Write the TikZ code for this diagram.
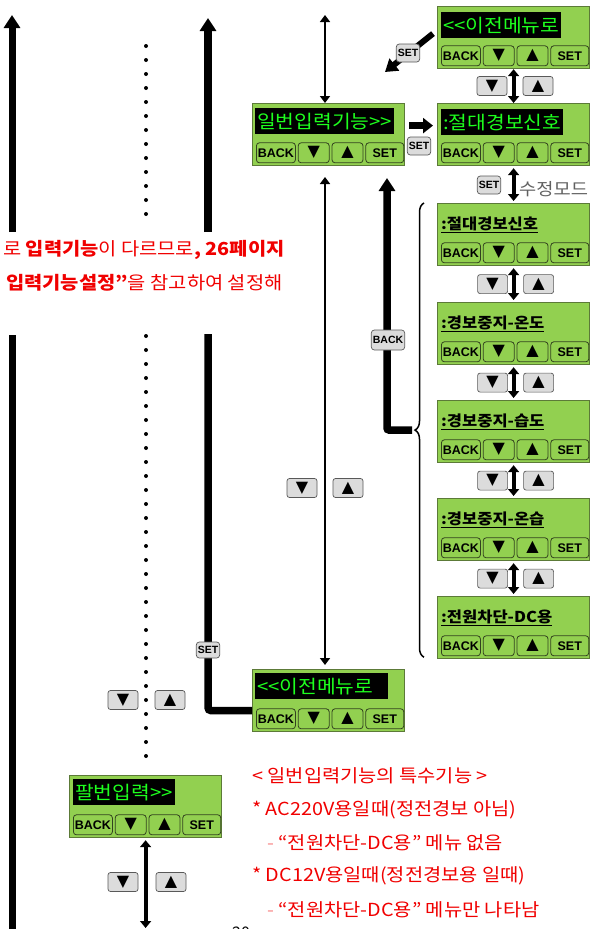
\documentclass[tikz,border=0pt]{standalone}
\usepackage{fontspec}
\setmainfont{Noto Sans CJK KR}[Ligatures=TeXOff]
\newfontfamily\krfont{Noto Sans CJK KR}[Ligatures=TeXOff, FakeStretch=1.1]
\newfontfamily\keyfont{Liberation Sans}
\newfontfamily\symfont{DejaVu Sans}
\usetikzlibrary{arrows.meta, calc, positioning, decorations.pathreplacing}

\definecolor{lcdgreen}{HTML}{92D050}
\definecolor{lcdedge}{HTML}{5C7A38}
\definecolor{lcdtext}{HTML}{1EFF1E}
\definecolor{keygray}{HTML}{DCDCDC}
\definecolor{notered}{HTML}{F00000}

\newcommand{\tri}[1]{{\symfont\fontsize{16}{16}\selectfont #1}}
\newcommand{\keyrow}[1]{%
  \node[panelkey, minimum width=39pt, anchor=south west] (#1back) at ($(#1.south west)+(4,-3)$) {BACK};
  \node[panelkey, minimum width=31pt, right=2pt of #1back] (#1down) {\tri{▼}};
  \node[panelkey, minimum width=31pt, right=2pt of #1down] (#1up) {\tri{▲}};
  \node[panelkey, minimum width=38pt, right=2pt of #1up] (#1set) {SET};}

\begin{document}
\begin{tikzpicture}[x=1pt, y=-1pt,
    panel/.style={draw=lcdedge, line width=1.2pt, fill=lcdgreen, minimum width=152pt, minimum height=62pt, inner sep=0pt, anchor=north west},
    panelkey/.style={draw=lcdedge!55!black, line width=0.8pt, fill=lcdgreen, rounded corners=3pt, minimum height=20pt, inner sep=0pt, font=\keyfont\bfseries\fontsize{12.5}{12.5}\selectfont},
    lcdtitle/.style={fill=black, text=lcdtext, inner xsep=2pt, inner ysep=0pt, minimum height=26pt, anchor=north west, font=\krfont\fontsize{18.5}{18.5}\selectfont},
    listtitle/.style={anchor=west, inner sep=0pt, font=\krfont\bfseries\fontsize{15}{15}\selectfont},
    graykey/.style={draw=gray!70!black, fill=keygray, rounded corners=2.5pt, minimum width=30pt, minimum height=19pt, inner sep=0pt, line width=0.7pt},
    icon/.style={draw=gray!70!black, fill=keygray, rounded corners=3pt, inner xsep=1.5pt, inner ysep=0pt, minimum height=18pt, line width=0.7pt, font=\keyfont\bfseries\fontsize{10.5}{10.5}\selectfont},
    bigarrow/.style={line width=7.5pt, -{Triangle[width=16pt,length=13pt]}},
    thinarrow/.style={line width=2.5pt, {Triangle[width=10pt,length=7pt]}-{Triangle[width=10pt,length=7pt]}},
    midarrow/.style={line width=4pt, {Triangle[width=11pt,length=7pt]}-{Triangle[width=11pt,length=7pt]}},
    note/.style={text=notered, anchor=west, inner sep=0pt, font=\krfont\fontsize{18}{18}\selectfont}]
    \useasboundingbox (0,0) rectangle (592,929);

    % left columns
    \coordinate (lt) at (12,15);
    \coordinate (lb) at (12,232);
    \draw[bigarrow, line width=7pt] (lb) -- (lt);
    \coordinate (lt2) at (12,335);
    \coordinate (lb2) at (12,935);
    \draw[line width=7pt] (lt2) -- (lb2);
    \foreach \y in {46,60,...,226} \fill (146,\y) circle[radius=2pt];
    \foreach \y in {336,350,...,766} \fill (146,\y) circle[radius=2pt];
    \coordinate (mt) at (208,18);
    \coordinate (mb) at (208,232);
    \draw[bigarrow] (mb) -- (mt);
    \coordinate (mt2) at (208,334);

    % red note
    \node[note] (nt1) at (3,250) {로 {\bfseries 입력기능}이 다르므로{\bfseries , 26페이지}};
    \node[note] (nt2) at (6,283) {{\bfseries 입력기능설정”}을 참고하여 설정해};

    % top panels
    \node[panel] (pa) at (437,6) {};
    \node[lcdtitle] (pat) at ($(pa.north west)+(4,6)$) {<<이전메뉴로};
    \keyrow{pa}
    \node[panel] (pb) at (252,103) {};
    \node[lcdtitle] (pbt) at ($(pb.north west)+(3,5)$) {일번입력기능>>};
    \keyrow{pb}
    \node[panel] (pc) at (437,103) {};
    \node[lcdtitle] (pct) at ($(pc.north west)+(4,6)$) {:절대경보신호};
    \keyrow{pc}

    \coordinate (dg) at (385,72);
    \draw[bigarrow, line width=6pt, -{Triangle[width=15pt,length=12pt]}] ($(pa.west)+(-4,-4)$) -- (dg);
    \node[icon] (set1) at (408,53) {SET};
    \draw[midarrow] (pa.south) -- (pc.north);
    \node[graykey] (pakd) at (492,86) {\tri{▼}};
    \node[graykey] (paku) at (538,86) {\tri{▲}};
    \draw[bigarrow, -{Triangle[width=15pt,length=10pt]}] ($(pb.east)+(4,-9)$) -- ($(pc.west)+(-4,-9)$);
    \node[icon] (set2) at (419,146) {SET};

    \coordinate (tpa) at (325,15);
    \draw[thinarrow] (tpa) -- (tpa |- pb.north);

    % edit mode list
    \foreach \n/\y/\t in {l1/203/:절대경보신호, l2/302/:경보중지-온도, l3/400/:경보중지-습도, l4/498/:경보중지-온습, l5/596/:전원차단-DC용} {
        \node[panel] (\n) at (437,\y) {};
        \node[listtitle] (\n t) at ($(\n.north west)+(4,22)$) {\underline{\t}};
        \keyrow{\n}
    }
    \draw[midarrow, shorten <=2pt, shorten >=2pt] (pc.south) -- (l1.north);
    \node[icon] (set3) at (489,185) {SET};
    \node[anchor=west, inner sep=0pt, text=gray!75!black, font=\krfont\fontsize{17}{17}\selectfont] (mode) at (519,189) {수정모드};
    \foreach \a/\b in {l1/l2, l2/l3, l3/l4, l4/l5} {
        \draw[midarrow, shorten <=2pt, shorten >=2pt] (\a.south) -- (\b.north);
        \node[graykey] (\a kd) at ($(\a.south)!0.5!(\b.north)+(-21,0)$) {\tri{▼}};
        \node[graykey] (\a ku) at ($(\a.south)!0.5!(\b.north)+(25,0)$) {\tri{▲}};
    }
    \draw[line width=1.5pt, decorate, decoration={brace, amplitude=9pt}] ($(l5.south west)+(-13,-2)$) -- ($(l1.north west)+(-13,0)$);
    \coordinate (brtip) at (412,430);
    \coordinate (bk) at (387,178);
    \draw[bigarrow, rounded corners=2pt] (brtip) -| (bk);
    \node[icon, minimum height=20pt] (back1) at (388,340) {BACK};

    % lower panels
    \node[panel] (pd) at (252,669) {};
    \node[lcdtitle, text width=129pt, align=left] (pdt) at ($(pd.north west)+(3,4)$) {<<이전메뉴로};
    \keyrow{pd}
    \coordinate (vb1) at (325,177);
    \draw[thinarrow, shorten >=4pt] (vb1) -- (vb1 |- pd.north);
    \node[graykey] (pbkd) at (302,488) {\tri{▼}};
    \node[graykey] (pbku) at (348,488) {\tri{▲}};
    \draw[line width=7.5pt, rounded corners=3pt] (mt2) |- ($(pd.west)+(0,10)$);
    \node[icon, minimum height=16pt] (set4) at (208,650) {SET};
    \node[graykey] (pdkd) at (123,700) {\tri{▼}};
    \node[graykey] (pdku) at (170,700) {\tri{▲}};

    \node[panel] (pe) at (69,775) {};
    \node[lcdtitle] (pet) at ($(pe.north west)+(4,4)$) {팔번입력>>};
    \keyrow{pe}
    \coordinate (eb) at (146,928);
    \draw[midarrow, shorten <=2pt] (pe.south) -- (pe.south |- eb);
    \node[graykey] (pekd) at (123,882) {\tri{▼}};
    \node[graykey] (peku) at (171,882) {\tri{▲}};

    % special functions
    \node[note] (sp1) at (252,776) {< 일번입력기능의 특수기능 >};
    \node[note] (sp2) at (252,810) {* AC220V용일때(정전경보 아님)};
    \node[note] (sp3) at (267,843) {{\color{notered!45}-} “전원차단-DC용” 메뉴 없음};
    \node[note] (sp4) at (252,876) {* DC12V용일때(정전경보용 일때)};
    \node[note] (sp5) at (267,910) {{\color{notered!45}-} “전원차단-DC용” 메뉴만 나타남};
    \node[font=\fontsize{16}{16}\selectfont] (pg) at (241,933) {20};
\end{tikzpicture}
\end{document}
